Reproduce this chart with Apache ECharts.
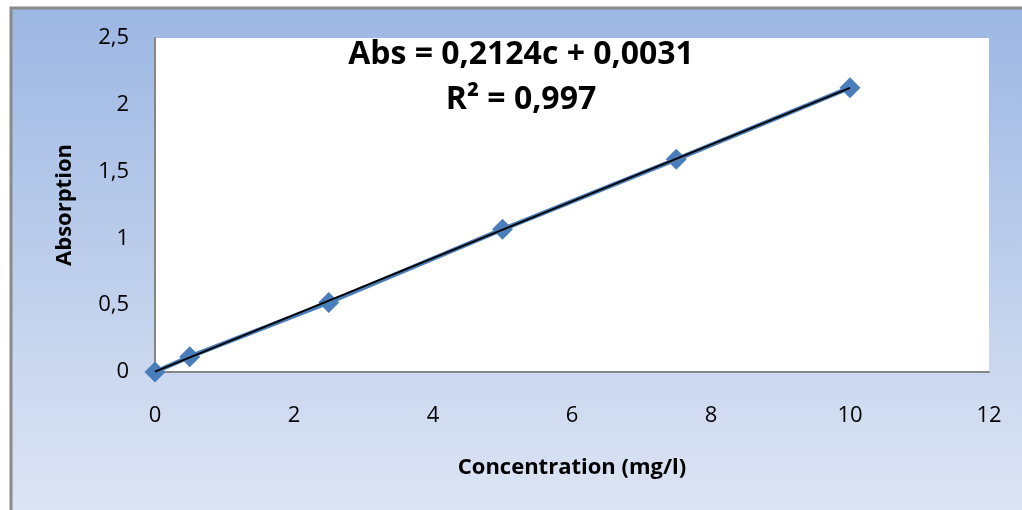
<!DOCTYPE html>
<html>
<head>
<meta charset="utf-8">
<script src="https://cdn.jsdelivr.net/npm/echarts@6/dist/echarts.min.js"></script>
<style>
html,body{margin:0;padding:0;background:#fff;}
#chart{width:1022px;height:510px;}
</style>
</head>
<body>
<div id="chart"></div>
<script>
// Data
var concentrations = [0, 0.5, 2.5, 5, 7.5, 10];
var absorptions = [0, 0.115, 0.52, 1.068, 1.592, 2.128];
var xTicks = [0, 2, 4, 6, 8, 10, 12];
var yTicks = ['0', '0,5', '1', '1,5', '2', '2,5'];
var trendSlope = 0.2124;
var trendIntercept = 0.0031;
var trendRange = [0, 10];
var equationText = 'Abs = 0,2124c + 0,0031';
var r2Text = 'R² = 0,997';
var xTitle = 'Concentration (mg/l)';
var yTitle = 'Absorption';

var pointData = concentrations.map(function (c, i) { return [c, absorptions[i]]; });
var trendData = trendRange.map(function (c) { return [c, trendSlope * c + trendIntercept]; });

var chart = echarts.init(document.getElementById('chart'), null, {renderer: 'canvas'});
var font = '"Open Sans", "Liberation Sans", sans-serif';

chart.setOption({
  backgroundColor: '#ffffff',
  animation: false,
  graphic: [
    {
      type: 'rect', z: -10, silent: true,
      shape: {x: 11, y: 8, width: 1030, height: 520},
      style: {
        fill: new echarts.graphic.LinearGradient(0, 0, 0, 1, [
          {offset: 0, color: '#9cb7e3'},
          {offset: 1, color: '#dfe6f4'}
        ]),
        stroke: '#8a8a8a', lineWidth: 3
      }
    },
    {
      type: 'text', z: 100,
      style: {
        text: equationText, x: 521, y: 55, fill: '#000',
        font: 'bold 32px ' + font, textAlign: 'center', textVerticalAlign: 'middle'
      }
    },
    {
      type: 'text', z: 100,
      style: {
        text: r2Text, x: 521, y: 100, fill: '#000',
        font: 'bold 32px ' + font, textAlign: 'center', textVerticalAlign: 'middle'
      }
    }
  ],
  grid: {
    left: 155, top: 38, width: 834, height: 334,
    show: true, backgroundColor: '#ffffff', borderWidth: 0
  },
  xAxis: {
    type: 'value', min: 0, max: 12, interval: 2,
    name: xTitle, nameLocation: 'middle', nameGap: 85,
    nameTextStyle: {fontFamily: font, fontWeight: 'bold', fontSize: 22, color: '#000', verticalAlign: 'top'},
    axisLine: {show: true, onZero: false, lineStyle: {color: '#868686', width: 2}},
    axisTick: {show: false},
    splitLine: {show: false},
    axisLabel: {
      margin: 33, fontFamily: font, fontSize: 22, color: '#000',
      formatter: function (v) { return xTicks.indexOf(v) >= 0 ? String(v) : ''; }
    }
  },
  yAxis: {
    type: 'value', min: 0, max: 2.5, interval: 0.5,
    name: yTitle, nameLocation: 'middle', nameGap: 79, nameRotate: 90,
    nameTextStyle: {fontFamily: font, fontWeight: 'bold', fontSize: 22, color: '#000'},
    axisLine: {show: true, onZero: false, lineStyle: {color: '#868686', width: 2}},
    axisTick: {show: false},
    splitLine: {show: false},
    axisLabel: {
      margin: 26, fontFamily: font, fontSize: 22, color: '#000',
      formatter: function (v) { var i = Math.round(v / 0.5); return yTicks[i] !== undefined ? yTicks[i] : ''; }
    }
  },
  series: [
    {
      type: 'line', data: pointData, z: 2,
      symbol: 'diamond', symbolSize: 21, showSymbol: true,
      lineStyle: {color: '#4a7ebb', width: 4.5},
      itemStyle: {color: '#4a7ebb'}
    },
    {
      type: 'line', data: trendData, z: 3,
      symbol: 'none',
      lineStyle: {color: '#000000', width: 2}
    }
  ]
});
</script>
</body>
</html>
